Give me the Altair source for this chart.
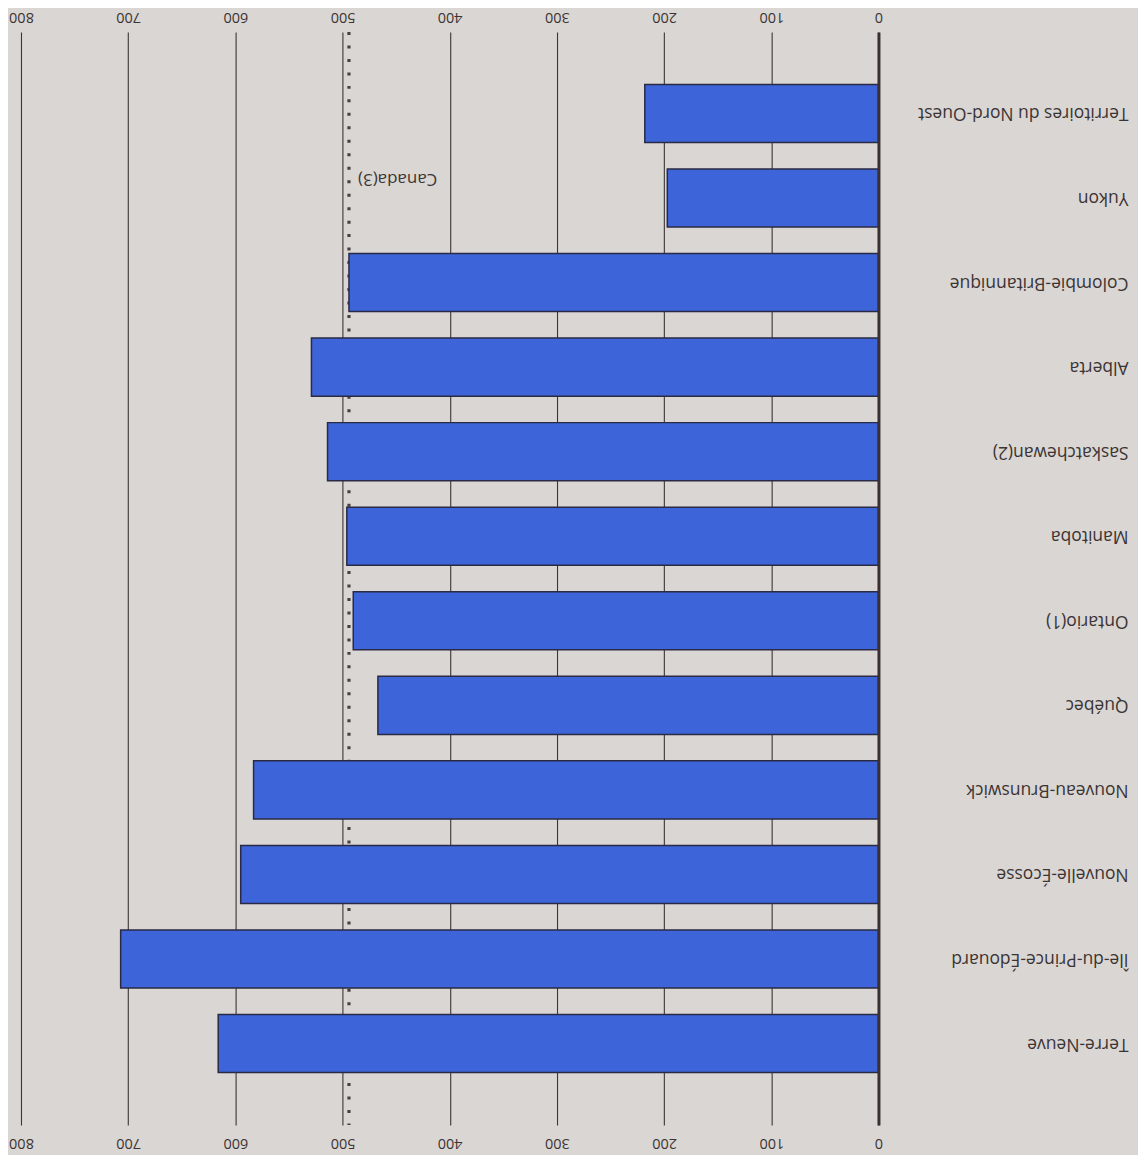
import altair as alt
import pandas as pd

provinces = [
    "Territoires du Nord-Ouest", "Yukon", "Colombie-Britannique", "Alberta",
    "Saskatchewan(2)", "Manitoba", "Ontario(1)", "Québec",
    "Nouveau-Brunswick", "Nouvelle-Écosse", "Île-du-Prince-Édouard", "Terre-Neuve",
]
values = [218, 197, 494, 529, 514, 496, 490, 467, 583, 595, 707, 616]
canada_value = 494
canada_label = "Canada(3)"
canada_row = "Yukon"
ticks = [0, 100, 200, 300, 400, 500, 600, 700, 800]

df = pd.DataFrame({"prov": provinces, "val": values})
ref = pd.DataFrame({"val": [canada_value], "label": [canada_label], "prov": [canada_row]})

FONT = "Open Sans"
INK = "#3a3434"

xscale = alt.Scale(domain=[0, 800], reverse=True, nice=False, zero=True)
yscale = alt.Scale(domain=provinces, paddingInner=0.313, paddingOuter=0.62)

yaxis = alt.Axis(orient="right", ticks=False, tickSize=0, domain=True,
                 domainWidth=3, domainColor="#3a3033", labelAngle=180,
                 labelAlign="left", labelBaseline="middle", labelPadding=250,
                 labelFontSize=17.5, labelFont=FONT, labelColor=INK,
                 labelLimit=0, zindex=2, title=None)

bars = alt.Chart(df).mark_bar(
    color="#3d64d8", stroke="#2a2a44", strokeWidth=1.5
).encode(
    x=alt.X("val:Q", scale=xscale,
            axis=alt.Axis(orient="bottom", values=ticks, grid=True, gridColor="#3d3535",
                          gridWidth=1.1, ticks=False, tickSize=0, domain=False,
                          labelAngle=180, labelBaseline="middle", labelAlign="center",
                          labelPadding=17, labelFlush=False, labelFontSize=14.5,
                          labelFont=FONT, labelColor=INK, title=None)),
    y=alt.Y("prov:N", scale=yscale, sort=provinces, axis=yaxis),
)

rule = alt.Chart(ref).mark_rule(
    color="#4a4040", strokeWidth=3.2, strokeDash=[3, 10.5], strokeCap="butt"
).encode(
    x=alt.X("val:Q", scale=xscale,
            axis=alt.Axis(orient="top", values=ticks, grid=False, ticks=False, tickSize=0,
                          domain=False, labelAngle=180, labelBaseline="middle",
                          labelAlign="center", labelPadding=16, labelFlush=False,
                          labelFontSize=14.5, labelFont=FONT, labelColor=INK, title=None)),
)

label = alt.Chart(ref).mark_text(
    angle=180, align="right", baseline="middle", dx=-9, dy=19,
    font=FONT, fontSize=17, color=INK
).encode(
    x=alt.X("val:Q", scale=xscale, axis=None),
    y=alt.Y("prov:N", scale=yscale, sort=provinces, axis=yaxis),
    text="label:N",
)

chart = alt.layer(rule, bars, label).resolve_axis(x="independent").properties(
    width=859, height=1095,
    autosize=alt.AutoSizeParams(type="none"),
    padding={"left": 13, "top": 23, "right": 260, "bottom": 30},
    background="#dad6d3",
).configure_view(stroke=None)

chart.save("out.html", embed_options={"renderer": "svg", "actions": False})
